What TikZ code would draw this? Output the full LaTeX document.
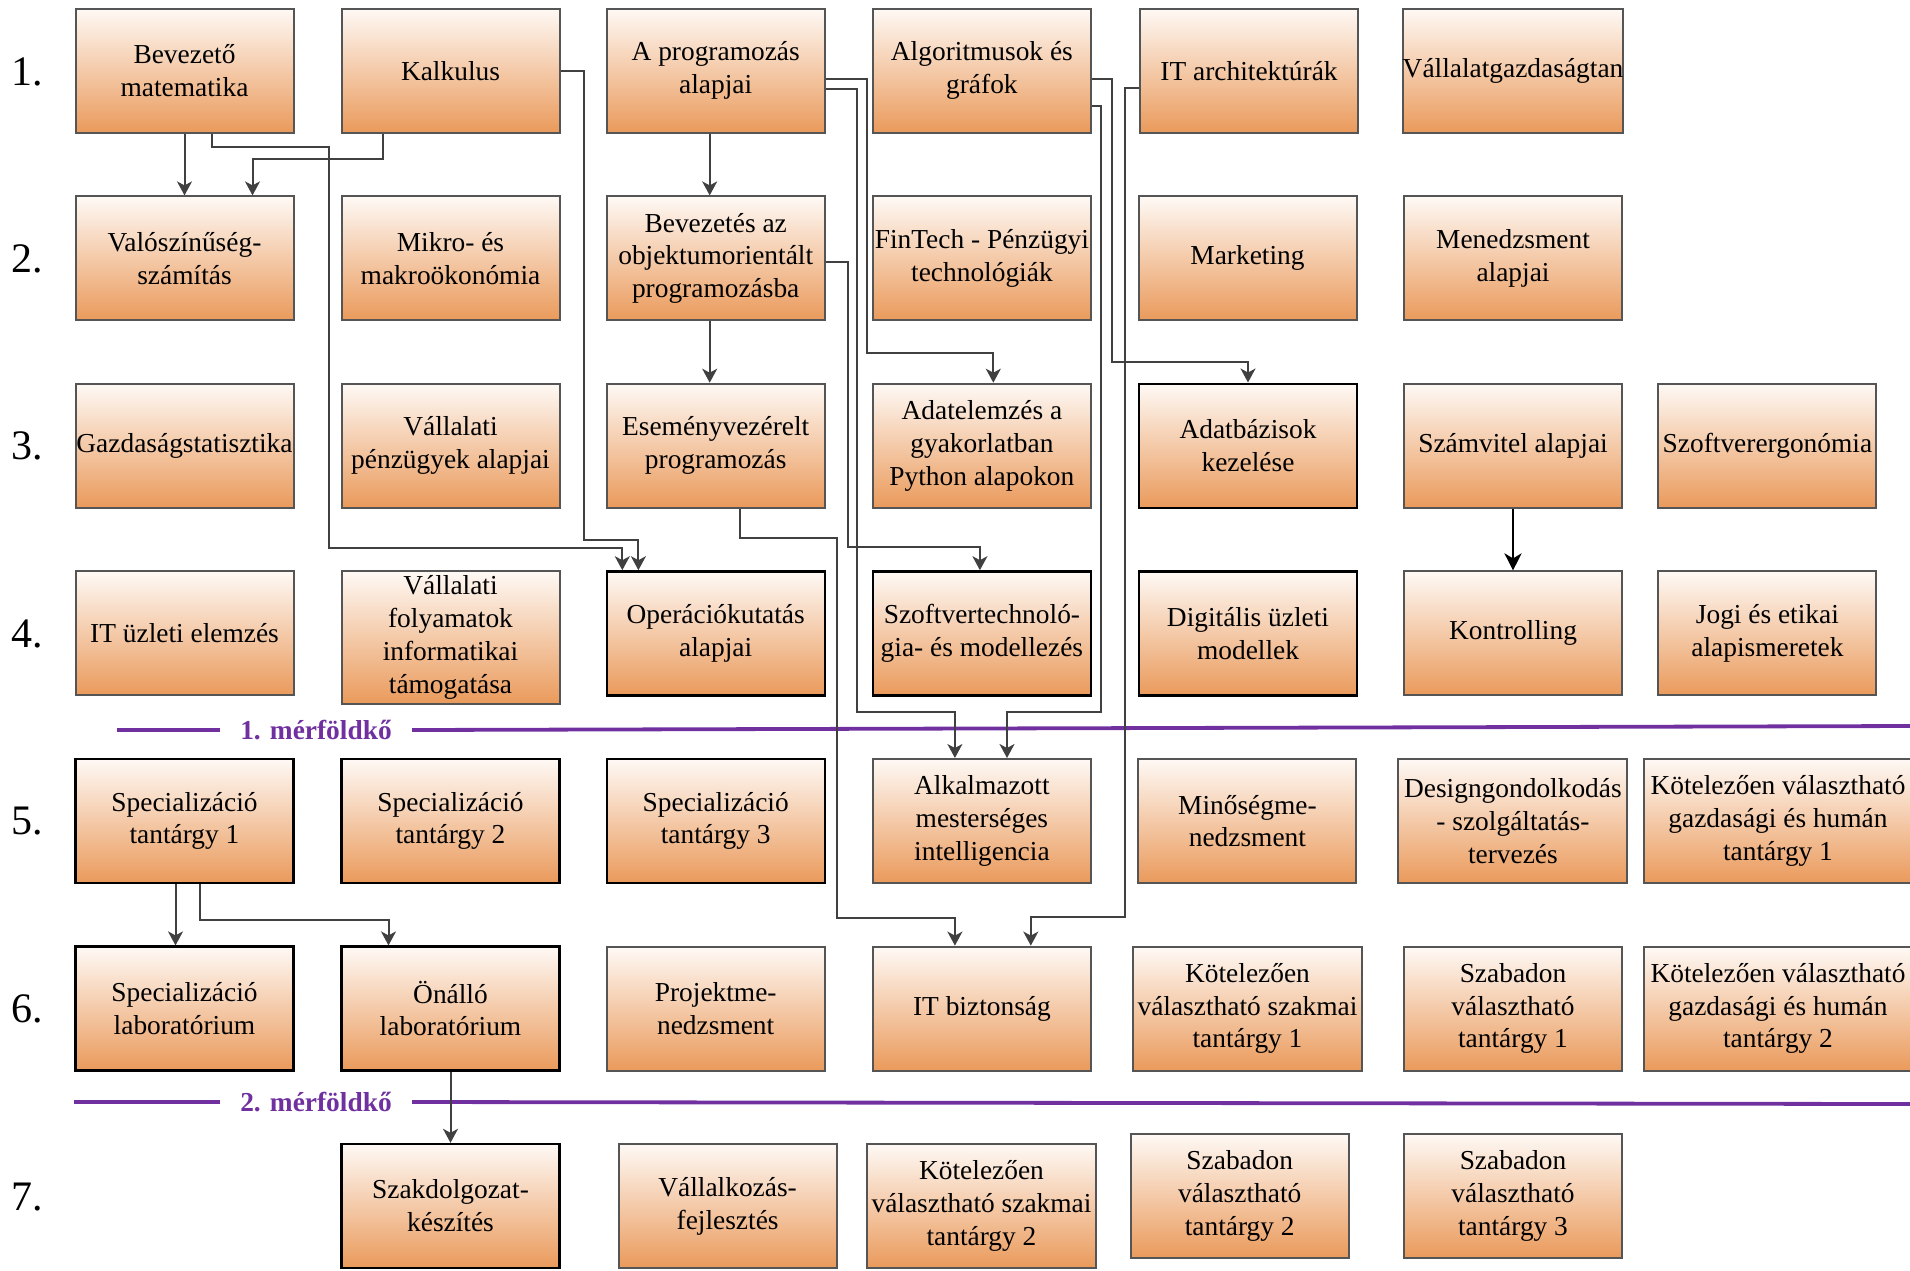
\documentclass[tikz,border=0pt]{standalone}
\usepackage{fontspec}
\setmainfont{Liberation Serif}
\usetikzlibrary{arrows.meta,calc}
\definecolor{boxtop}{HTML}{FEF9F5}
\definecolor{boxbot}{HTML}{EA9A5B}
\definecolor{boxline}{HTML}{555555}
\definecolor{connline}{HTML}{404040}
\definecolor{msviolet}{HTML}{7030A0}

\begin{document}
\begin{tikzpicture}[x=0.5pt,y=-0.5pt,
    course/.style={draw=boxline,line width=1pt,top color=boxtop,bottom color=boxbot,
      minimum width=109pt,minimum height=62pt,inner sep=0pt,align=center,
      font=\fontsize{13.7}{16.4}\selectfont},
    keycourse/.style={course,draw=black,line width=1.2pt},
    conn/.style={draw=connline,line width=1pt,-{Stealth[length=7pt,width=7.5pt,inset=2pt]}},
    thickconn/.style={draw=black,line width=1.4pt,-{Stealth[length=8.5pt,width=8.5pt,inset=2.5pt]}},
    semester/.style={font=\fontsize{21}{24}\selectfont},
    milestone/.style={draw=msviolet,line width=1.9pt},
    mslabel/.style={text=msviolet,inner xsep=10pt,font=\fontsize{13.7}{16.4}\selectfont\bfseries}]
  \useasboundingbox (0,0) rectangle (1910,1270);

  \node[semester] (sem1) at (27.5,72) {1.};
  \node[semester] (sem2) at (27.5,259) {2.};
  \node[semester] (sem3) at (27.5,446) {3.};
  \node[semester] (sem4) at (27.5,634) {4.};
  \node[semester] (sem5) at (27.5,821) {5.};
  \node[semester] (sem6) at (27.5,1009) {6.};
  \node[semester] (sem7) at (27.5,1197) {7.};

  \node[course] (bevmat)   at (184.5,70.7) {Bevezető\\matematika};
  \node[course] (kalk)     at (450.5,70.7) {Kalkulus};
  \node[course] (progalap) at (715.7,70.7) {A programozás\\alapjai};
  \node[course] (algo)     at (981.9,70.7) {Algoritmusok és\\gráfok};
  \node[course] (itarch)   at (1249,70.7) {IT architektúrák};
  \node[course] (vgazd)    at (1513,70.7) {Vállalatgazdaságtan};

  \node[course] (valsz)    at (184.5,258.4) {Valószínűség-\\számítás};
  \node[course] (mikro)    at (450.5,258.4) {Mikro- és\\makroökonómia};
  \node[course] (oop)      at (715.7,258.4) {Bevezetés az\\objektumorientált\\programozásba};
  \node[course] (fintech)  at (981.9,258.4) {FinTech - Pénzügyi\\technológiák};
  \node[course] (mark)     at (1247.5,258.4) {Marketing};
  \node[course] (menedzs)  at (1513,258.4) {Menedzsment\\alapjai};

  \node[course] (gstat)    at (184.5,445.7) {Gazdaságstatisztika};
  \node[course] (vpenz)    at (450.5,445.7) {Vállalati\\pénzügyek alapjai};
  \node[course] (esemeny)  at (715.7,445.7) {Eseményvezérelt\\programozás};
  \node[course] (adatel)   at (981.9,445.7) {Adatelemzés a\\gyakorlatban\\Python alapokon};
  \node[keycourse] (adatb) at (1248,445.7) {Adatbázisok\\kezelése};
  \node[course] (szamv)    at (1513,445.7) {Számvitel alapjai};
  \node[course] (szergo)   at (1767.4,445.7) {Szoftverergonómia};

  \node[course] (itelem)   at (184.5,633.4) {IT üzleti elemzés};
  \node[course,minimum height=66.5pt] (vfoly) at (450.5,637.6) {Vállalati\\folyamatok\\informatikai\\támogatása};
  \node[keycourse] (opkut) at (715.7,633.4) {Operációkutatás\\alapjai};
  \node[keycourse] (sztech) at (981.9,633.4) {Szoftvertechnoló-\\gia- és modellezés};
  \node[keycourse] (digit) at (1248,633.4) {Digitális üzleti\\modellek};
  \node[course] (kontr)    at (1513,633.4) {Kontrolling};
  \node[course] (jogi)     at (1767.4,633.4) {Jogi és etikai\\alapismeretek};

  \node[keycourse] (spec1) at (184.5,821) {Specializáció\\tantárgy 1};
  \node[keycourse] (spec2) at (450.5,821) {Specializáció\\tantárgy 2};
  \node[keycourse] (spec3) at (715.7,821) {Specializáció\\tantárgy 3};
  \node[course] (ami)      at (981.9,821) {Alkalmazott\\mesterséges\\intelligencia};
  \node[course] (minoseg)  at (1247.4,821) {Minőségme-\\nedzsment};
  \node[course,minimum width=114.5pt] (design) at (1512.9,821) {Designgondolkodás\\- szolgáltatás-\\tervezés};
  \node[course,minimum width=134pt] (kgazd1) at (1778,821) {Kötelezően választható\\gazdasági és humán\\tantárgy 1};

  \node[keycourse] (speclab) at (184.5,1008.6) {Specializáció\\laboratórium};
  \node[keycourse] (onallo) at (450.5,1008.6) {Önálló\\laboratórium};
  \node[course] (projekt)  at (715.7,1008.6) {Projektme-\\nedzsment};
  \node[course] (itbizt)   at (981.9,1008.6) {IT biztonság};
  \node[course,minimum width=114.5pt] (kszak1) at (1247.5,1008.6) {Kötelezően\\választható szakmai\\tantárgy 1};
  \node[course] (szab1)    at (1513,1008.6) {Szabadon\\választható\\tantárgy 1};
  \node[course,minimum width=134pt] (kgazd2) at (1778,1008.6) {Kötelezően választható\\gazdasági és humán\\tantárgy 2};

  \node[keycourse] (szakd) at (450.5,1206) {Szakdolgozat-\\készítés};
  \node[course] (vallalk)  at (727.6,1206) {Vállalkozás-\\fejlesztés};
  \node[course,minimum width=114.5pt] (kszak2) at (981.5,1206) {Kötelezően\\választható szakmai\\tantárgy 2};
  \node[course] (szab2)    at (1239.7,1196) {Szabadon\\választható\\tantárgy 2};
  \node[course] (szab3)    at (1513,1196) {Szabadon\\választható\\tantárgy 3};

  \node[mslabel] (ms1) at (316,730) {1. mérföldkő};
  \coordinate (ms1a) at (117,730);
  \coordinate (ms1b) at (1912,726);
  \draw[milestone] (ms1a) -- (ms1.west) (ms1.east) -- (ms1b);
  \node[mslabel] (ms2) at (316,1102) {2. mérföldkő};
  \coordinate (ms2a) at (74,1102);
  \coordinate (ms2b) at (1912,1104);
  \draw[milestone] (ms2a) -- (ms2.west) (ms2.east) -- (ms2b);

  \draw[conn] (bevmat) -- (valsz);
  \draw[conn] ($(kalk.south)+(-68,0)$) -- ++(0,25) -| ($(valsz.north)+(68,0)$);
  \draw[conn] ($(bevmat.south)+(27,0)$) -- ++(0,13.4) -- ++(117.4,0) -- ++(0,400.9) -| ($(opkut.north)+(-93.4,0)$);
  \draw[conn] (kalk.east) -- ++(23.5,0) -- ++(0,469) -| ($(opkut.north)+(-77.3,0)$);
  \draw[conn] ($(progalap.south)+(-6,0)$) -- ($(oop.north)+(-6,0)$);
  \draw[conn] ($(oop.south)+(-6,0)$) -- ($(esemeny.north)+(-6,0)$);
  \draw[conn] ($(progalap.east)+(0,8)$) -- ++(41.3,0) -- ++(0,274.3) -| ($(adatel.north)+(11.4,0)$);
  \draw[conn] ($(progalap.east)+(0,18)$) -- ++(31.6,0) -- ++(0,623.5) -| ($(ami.north)+(-27,0)$);
  \draw[conn] ($(oop.east)+(0,4)$) -- ++(22.2,0) -- ++(0,284.9) -| ($(sztech.north)+(-2,0)$);
  \draw[conn] ($(algo.east)+(0,8)$) -- ++(19.8,0) -- ++(0,283.2) -| (adatb.north);
  \draw[conn] ($(algo.east)+(0,35.3)$) -- ++(9.5,0) -- ++(0,606.2) -| ($(ami.north)+(25.1,0)$);
  \draw[conn] ($(itarch.west)+(0,17.5)$) -- ++(-14,0) -- ++(0,828.3) -| ($(itbizt.north)+(48.9,0)$);
  \draw[conn] ($(esemeny.south)+(24,0)$) -- ++(0,29.7) -- ++(97.3,0) -- ++(0,379.1) -| ($(itbizt.north)+(-27,0)$);
  \draw[thickconn] (szamv) -- (kontr);
  \draw[conn] ($(spec1.south)+(-9,0)$) -- ($(speclab.north)+(-9,0)$);
  \draw[conn] ($(spec1.south)+(15.5,0)$) -- ++(0,35.5) -| ($(onallo.north)+(-62,0)$);
  \draw[conn] (onallo) -- (szakd);
\end{tikzpicture}
\end{document}
